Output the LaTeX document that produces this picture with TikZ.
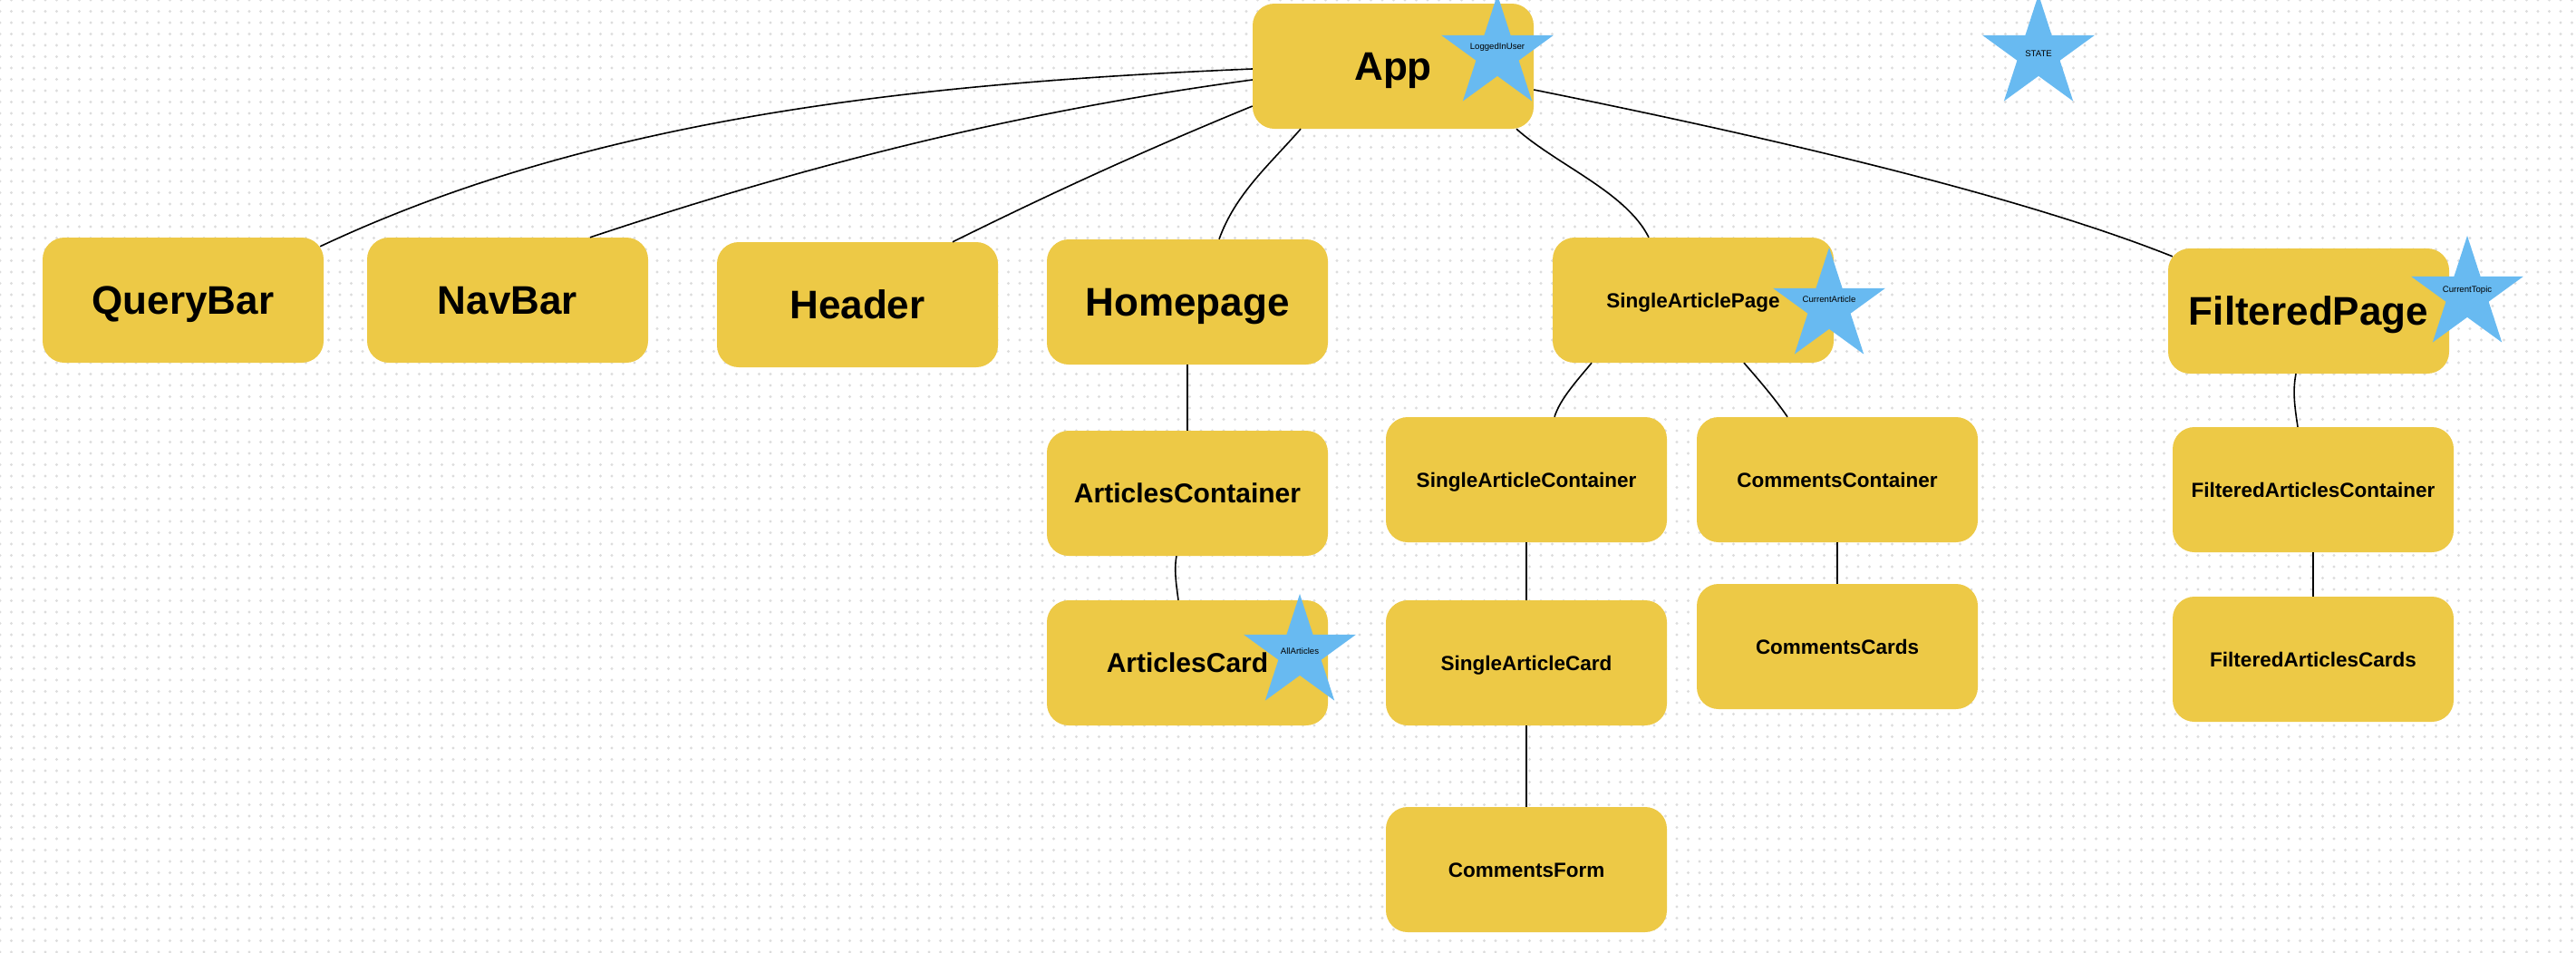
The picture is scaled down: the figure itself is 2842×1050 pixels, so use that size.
\documentclass[tikz,border=0pt]{standalone}
\usepackage{fontspec}
\setmainfont{Liberation Sans}
\usetikzlibrary{shapes.geometric,patterns.meta}
\definecolor{boxyellow}{RGB}{237,201,70}
\definecolor{starblue}{RGB}{104,186,241}
\definecolor{dotgray}{RGB}{220,220,220}
\begin{document}
\begin{tikzpicture}[x=1pt,y=-1pt,
  comp/.style={rectangle, rounded corners=24pt, fill=boxyellow, minimum width=310pt, minimum height=138pt, inner sep=0pt, text=black},
  bigtxt/.style={font=\fontsize{44}{50}\selectfont\bfseries, text height=31.5pt, text depth=0pt},
  midtxt/.style={font=\fontsize{30}{36}\selectfont\bfseries, text height=21.5pt, text depth=0pt},
  smalltxt/.style={font=\fontsize{22.5}{27}\selectfont\bfseries, text height=16.1pt, text depth=0pt},
  statestar/.style={star, star points=5, star point ratio=2.618, minimum size=130pt, inner sep=0pt, fill=starblue, draw=none},
  startxt/.style={font=\fontsize{9.6}{11}\selectfont, text height=6.9pt, text depth=0pt, inner sep=0pt, text=black},
  conn/.style={draw=black, line width=1.6pt}
]
\fill[white] (0,0) rectangle (2842,1050);
\fill[pattern={Dots[distance=12.5pt,radius=1.6pt]}, pattern color=dotgray] (0,0) rectangle (2842,1050);
\useasboundingbox (0,0) rectangle (2842,1050);

% component boxes
\node[comp,bigtxt] (app) at (1537,73) {App};
\node[comp,bigtxt] (qb) at (202,331) {QueryBar};
\node[comp,bigtxt] (nb) at (560,331) {NavBar};
\node[comp,bigtxt] (hd) at (946,336) {Header};
\node[comp,bigtxt] (hp) at (1310,333) {Homepage};
\node[comp,smalltxt] (sap) at (1868,331) {SingleArticlePage};
\node[comp,bigtxt] (fp) at (2547,343) {FilteredPage};
\node[comp,midtxt] (ac) at (1310,544) {ArticlesContainer};
\node[comp,midtxt] (acard) at (1310,731) {ArticlesCard};
\node[comp,smalltxt] (sac) at (1684,529) {SingleArticleContainer};
\node[comp,smalltxt] (cc) at (2027,529) {CommentsContainer};
\node[comp,smalltxt] (sacard) at (1684,731) {SingleArticleCard};
\node[comp,smalltxt] (ccards) at (2027,713) {CommentsCards};
\node[comp,smalltxt] (cf) at (1684,959) {CommentsForm};
\node[comp,smalltxt] (fac) at (2552,540) {FilteredArticlesContainer};
\node[comp,smalltxt] (facards) at (2552,727) {FilteredArticlesCards};

% connectors
\draw[conn] ([yshift=-3pt]app.west) .. controls +(-380,16) and +(300,-141) .. ([xshift=-4pt,yshift=-10pt]qb.north east);
\draw[conn] ([yshift=-15pt]app.west) .. controls +(-260,35) and +(240,-80) .. ([xshift=91pt]nb.north);
\draw[conn] ([yshift=-44pt]app.west) .. controls +(-110,45) and +(115,-57) .. ([xshift=105pt]hd.north);
\draw[conn] ([xshift=-102pt]app.south) .. controls +(-35,40) and +(18,-50) .. ([xshift=35pt]hp.north);
\draw[conn] ([xshift=136pt]app.south) .. controls +(45,40) and +(-25,-50) .. ([xshift=-49pt]sap.north);
\draw[conn] ([yshift=-26pt]app.east) .. controls +(328,66) and +(-143,-57) .. ([xshift=5pt,yshift=-9pt]fp.north west);
\draw[conn] (hp.south) -- (ac.north);
\draw[conn] ([xshift=-12pt]ac.south) .. controls +(-3,15) and +(-2,-15) .. ([xshift=-10pt]acard.north);
\draw[conn] ([xshift=-112pt]sap.south) .. controls +(-14,17) and +(6,-20) .. ([xshift=31pt]sac.north);
\draw[conn] ([xshift=56pt]sap.south) .. controls +(15,17) and +(-12,-18) .. ([xshift=-55pt]cc.north);
\draw[conn] (sac.south) -- (sacard.north);
\draw[conn] (cc.south) -- (ccards.north);
\draw[conn] (sacard.south) -- (cf.north);
\draw[conn] ([xshift=-14pt]fp.south) .. controls +(-4,20) and +(-3,-20) .. ([xshift=-17pt]fac.north);
\draw[conn] (fac.south) -- (facards.north);

% state stars
\node[statestar] (s1) at (1652,59) {};
\node[startxt] (s1t) at (1652,51) {LoggedInUser};
\node[statestar] (s2) at (2249,59) {};
\node[startxt] (s2t) at (2249,59) {STATE};
\node[statestar] (s3) at (2018,338) {};
\node[startxt] (s3t) at (2018,330) {CurrentArticle};
\node[statestar] (s4) at (1434,720) {};
\node[startxt] (s4t) at (1434,718) {AllArticles};
\node[statestar] (s5) at (2722,325) {};
\node[startxt] (s5t) at (2722,319) {CurrentTopic};
\end{tikzpicture}
\end{document}
